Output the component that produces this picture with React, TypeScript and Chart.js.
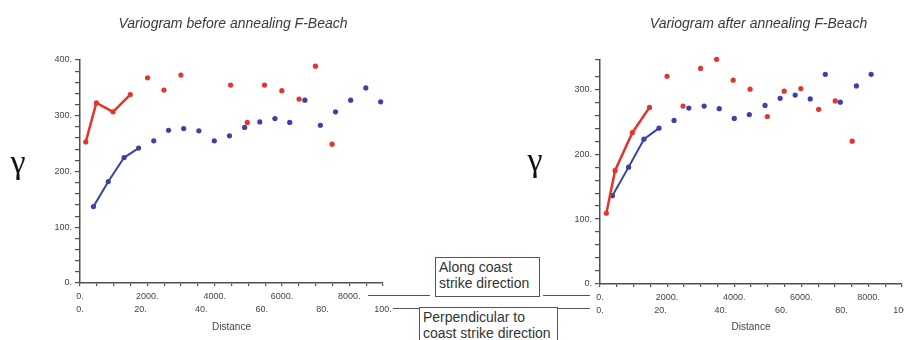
import React, { useEffect, useRef } from 'react';
import { Chart, registerables } from 'chart.js';

Chart.register(...registerables);

// ---- Data: variogram before annealing ----
const alongLagsBefore = [400, 840, 1310, 1740, 2190, 2630, 3080, 3530, 3990, 4440, 4890, 5340, 5790, 6230, 6680, 7140, 7590, 8040, 8490, 8930];
const alongGammaBefore = [137, 182, 225, 242, 255, 274, 277, 273, 255, 264, 279, 289, 295, 288, 328, 283, 307, 328, 350, 325];
const perpLagsBefore = [1.9, 5.4, 10.9, 16.6, 22.3, 27.7, 33.3, 49.7, 55.2, 60.9, 66.6, 72.3, 77.7, 83.2];
const perpGammaBefore = [253, 323, 307, 338, 368, 346, 373, 355, 288, 355, 345, 330, 389, 249];

// ---- Data: variogram after annealing ----
const alongLagsAfter = [370, 852, 1310, 1758, 2207, 2647, 3104, 3553, 4001, 4450, 4919, 5368, 5816, 6265, 6714, 7162, 7641, 8080];
const alongGammaAfter = [136, 180, 223, 240, 252, 271, 274, 270, 255, 261, 275, 286, 291, 285, 323, 280, 305, 323];
const perpLagsAfter = [2.1, 5.0, 10.7, 16.4, 22.2, 27.5, 33.3, 38.6, 44.1, 49.7, 55.4, 61.0, 66.5, 72.4, 77.9, 83.5];
const perpGammaAfter = [109, 175, 233, 272, 320, 274, 332, 346, 314, 300, 258, 297, 301, 269, 282, 220];

// ---- Tick labels ----
const alongTickLabels = [0, 2000, 4000, 6000, 8000];
const perpTickLabels = [0, 20, 40, 60, 80, 100];
const gammaTickLabelsBefore = [0, 100, 200, 300, 400];
const gammaTickLabelsAfter = [0, 100, 200, 300];

const linkedPoints = 4; // first points joined by a line

const RED = '#e3352b';
const BLUE = '#3a43a4';
const AXIS = '#505050';
const TEXT = '#444444';
const FAMILY = '"Liberation Sans", Arial, sans-serif';

const captionPlugin = {
  id: 'captions',
  afterDraw(chart: any, _args: any, opts: any) {
    const { ctx, chartArea } = chart;
    ctx.save();
    ctx.textAlign = 'center';
    ctx.textBaseline = 'middle';
    ctx.fillStyle = '#3a3a3a';
    ctx.font = 'italic 14px ' + FAMILY;
    ctx.fillText(opts.title, (chartArea.left + chartArea.right) / 2 + opts.titleDx, opts.titleY);
    ctx.fillStyle = '#111111';
    ctx.font = '34px "Liberation Serif", "DejaVu Serif", serif';
    ctx.fillText('\u03B3', opts.gammaX, opts.gammaY);
    ctx.restore();
  },
};

function toPoints(xs: number[], ys: number[]) {
  return xs.map((x, i) => ({ x, y: ys[i] }));
}

function series(label: string, xs: number[], ys: number[], color: string, axis: string, width: number) {
  return {
    label,
    data: toPoints(xs, ys),
    xAxisID: axis,
    yAxisID: 'y',
    showLine: true,
    clip: false,
    borderColor: color,
    backgroundColor: color,
    borderWidth: width,
    pointRadius: 2.6,
    pointHoverRadius: 2.6,
    pointBorderWidth: 0,
    pointBackgroundColor: color,
    segment: {
      borderColor: (ctx: any) => (ctx.p1DataIndex < linkedPoints ? color : 'rgba(0,0,0,0)'),
    },
  };
}

function buildConfig(o: any): any {
  const tickFont = { size: 9, family: FAMILY };
  return {
    type: 'scatter',
    data: {
      datasets: [
        series('Perpendicular to coast strike direction', o.perpX, o.perpY, RED, 'x2', 2.5),
        series('Along coast strike direction', o.alongX, o.alongY, BLUE, 'x', 2),
      ],
    },
    plugins: [captionPlugin],
    options: {
      responsive: false,
      animation: false,
      events: [],
      layout: { padding: { top: 60, left: 0, right: o.padRight, bottom: 0 } },
      plugins: {
        legend: { display: false },
        tooltip: { enabled: false },
        title: { display: false },
        captions: o.captions,
      },
      scales: {
        x: {
          type: 'linear',
          position: 'bottom',
          weight: 0,
          min: 0,
          max: 9000,
          afterFit: (s: any) => { s.height = o.xHeight; },
          border: { display: true, color: AXIS, width: 1.5 },
          grid: { drawOnChartArea: false, drawTicks: true, tickLength: 3, color: AXIS, lineWidth: 1.2 },
          ticks: {
            stepSize: 500,
            autoSkip: false,
            maxRotation: 0,
            minRotation: 0,
            padding: 5,
            color: TEXT,
            font: tickFont,
            callback: (v: number) => (alongTickLabels.includes(v) ? v + '.' : ''),
          },
        },
        x2: {
          type: 'linear',
          position: 'bottom',
          weight: 1,
          min: 0,
          max: 100,
          afterFit: (s: any) => { s.height = o.x2Height; },
          border: { display: false },
          grid: { display: false, drawTicks: false },
          ticks: {
            stepSize: 20,
            autoSkip: false,
            maxRotation: 0,
            minRotation: 0,
            padding: 1,
            color: TEXT,
            font: tickFont,
            callback: (v: number) => (perpTickLabels.includes(v) ? v + '.' : ''),
          },
          title: {
            display: true,
            text: 'Distance',
            color: TEXT,
            font: { size: 10, family: FAMILY },
            padding: { top: 0, bottom: 7 },
          },
        },
        y: {
          type: 'linear',
          position: 'left',
          min: 0,
          max: o.yMax,
          afterFit: (s: any) => { s.width = o.yWidth; },
          border: { display: true, color: AXIS, width: 1.5 },
          grid: { drawOnChartArea: false, drawTicks: true, tickLength: 5, color: AXIS, lineWidth: 1.2 },
          ticks: {
            stepSize: 20,
            autoSkip: false,
            padding: 3,
            color: TEXT,
            font: tickFont,
            callback: (v: number) => (o.yLabels.includes(v) ? v + '.' : ''),
          },
        },
      },
    },
  };
}

const lineStyle = (left: number, top: number, width: number): React.CSSProperties => ({
  position: 'absolute',
  left,
  top,
  width,
  height: 0,
  borderTop: '1.5px solid #555',
});

const boxStyle = (left: number, top: number, width: number, height: number): React.CSSProperties => ({
  position: 'absolute',
  left,
  top,
  width,
  height,
  boxSizing: 'border-box',
  border: '1.5px solid #555',
  background: '#fff',
  padding: '1px 0 0 3px',
  font: '14px ' + FAMILY,
  lineHeight: '16px',
  color: '#333',
  whiteSpace: 'nowrap',
});

export default function App() {
  const leftRef = useRef<HTMLCanvasElement>(null);
  const rightRef = useRef<HTMLCanvasElement>(null);

  useEffect(() => {
    const left = new Chart(leftRef.current as HTMLCanvasElement, buildConfig({
      alongX: alongLagsBefore,
      alongY: alongGammaBefore,
      perpX: perpLagsBefore,
      perpY: perpGammaBefore,
      yMax: 400,
      yLabels: gammaTickLabelsBefore,
      yWidth: 80,
      padRight: 57,
      xHeight: 20,
      x2Height: 37,
      captions: { title: 'Variogram before annealing F-Beach', titleDx: 1.5, titleY: 24, gammaX: 18, gammaY: 164 },
    }));
    const right = new Chart(rightRef.current as HTMLCanvasElement, buildConfig({
      alongX: alongLagsAfter,
      alongY: alongGammaAfter,
      perpX: perpLagsAfter,
      perpY: perpGammaAfter,
      yMax: 345,
      yLabels: gammaTickLabelsAfter,
      yWidth: 100,
      padRight: 58,
      xHeight: 20,
      x2Height: 36,
      captions: { title: 'Variogram after annealing F-Beach', titleDx: 7.5, titleY: 24, gammaX: 35, gammaY: 162 },
    }));
    return () => {
      left.destroy();
      right.destroy();
    };
  }, []);

  return (
    <div style={{ position: 'fixed', left: 0, top: 0, width: 904, height: 340, overflow: 'hidden', background: '#fff' }}>
      <canvas ref={leftRef} width={440} height={340} style={{ position: 'absolute', left: 0, top: 0 }} />
      <canvas ref={rightRef} width={460} height={340} style={{ position: 'absolute', left: 500, top: 0 }} />
      <div style={lineStyle(368, 295, 62)} />
      <div style={lineStyle(543, 295, 47)} />
      <div style={lineStyle(393, 307.5, 26)} />
      <div style={lineStyle(557, 307.5, 33)} />
      <div style={boxStyle(435, 257, 105, 40)}>Along coast<br />strike direction</div>
      <div style={boxStyle(419, 307, 139, 45)}>Perpendicular to<br />coast strike direction</div>
    </div>
  );
}
